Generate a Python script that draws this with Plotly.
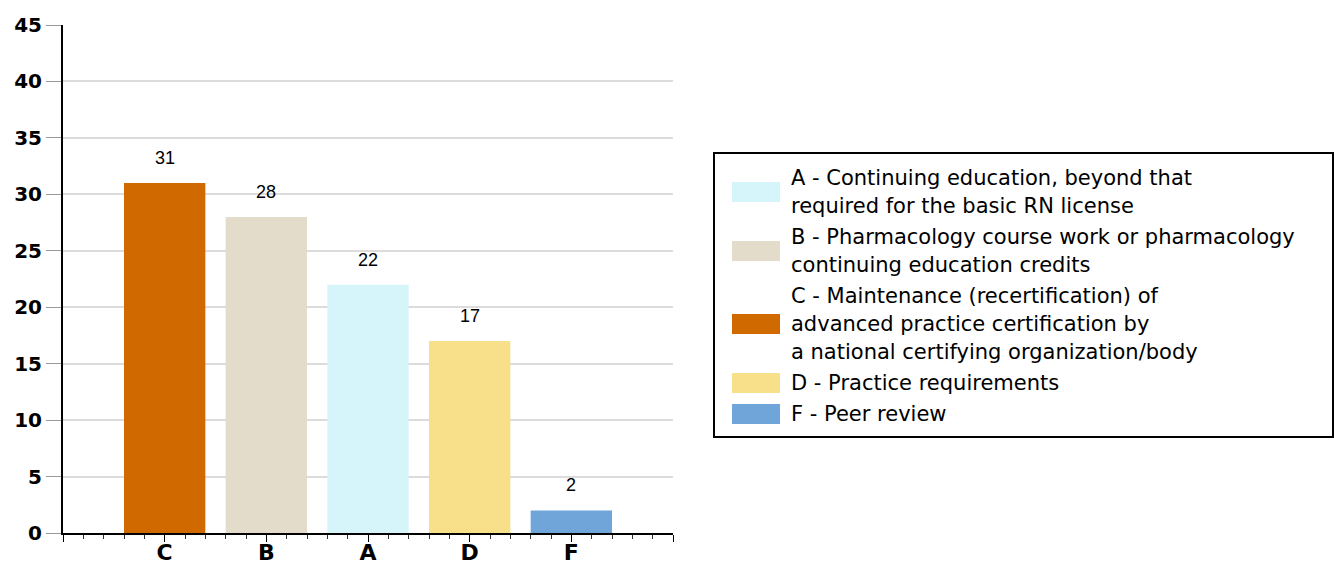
import plotly.graph_objects as go

# ---- data ----
categories = ["C", "B", "A", "D", "F"]
values = [31, 28, 22, 17, 2]
bar_colors = ["#CF6900", "#E3DCCA", "#D6F5FA", "#F8DF8A", "#70A5DA"]

legend_keys = ["A", "B", "C", "D", "F"]
legend_lines = [
    ["A - Continuing education, beyond that", "required for the basic RN license"],
    ["B - Pharmacology course work or pharmacology", "continuing education credits"],
    ["C - Maintenance (recertification) of", "advanced practice certification by",
     "a national certifying organization/body"],
    ["D - Practice requirements"],
    ["F - Peer review"],
]
y_ticks = list(range(0, 50, 5))

# ---- layout geometry (pixels) ----
W, H = 1334, 567
L, R, T, B = 63, 673, 25, 533
FONT = "Liberation Sans, Arial, sans-serif"
WIDE = "DejaVu Sans, Liberation Sans, sans-serif"


def px_x(px):
    return (px - L) / (R - L)


def px_y(py):
    return (B - py) / (B - T)


xpos = list(range(len(categories)))
color_of = dict(zip(categories, bar_colors))

fig = go.Figure()
fig.add_trace(go.Bar(
    x=xpos, y=values, width=0.8,
    marker=dict(color=bar_colors, line=dict(width=0)),
    showlegend=False, hoverinfo="skip",
))

annotations = []
for xi, v in zip(xpos, values):
    annotations.append(dict(
        x=xi, y=v, xref="x", yref="y", text=str(v), showarrow=False,
        yanchor="middle", yshift=25, font=dict(family=FONT, size=18, color="#000"),
    ))

# ---- custom legend ----
shapes = [dict(type="rect", xref="paper", yref="paper",
               x0=px_x(714), x1=px_x(1333), y0=px_y(437), y1=px_y(153),
               line=dict(color="#000", width=2), fillcolor="rgba(0,0,0,0)")]
y = 178
for key, lines in zip(legend_keys, legend_lines):
    ys = [y + 28 * i for i in range(len(lines))]
    yc = sum(ys) / len(ys)
    shapes.append(dict(type="rect", xref="paper", yref="paper",
                       x0=px_x(732), x1=px_x(780), y0=px_y(yc + 10), y1=px_y(yc - 10),
                       line=dict(width=0), fillcolor=color_of[key]))
    for ln, yy in zip(lines, ys):
        annotations.append(dict(
            x=px_x(789), y=px_y(yy), xref="paper", yref="paper", text=ln,
            showarrow=False, xanchor="left", yanchor="middle",
            font=dict(family=WIDE, size=21, color="#000"),
        ))
    y = ys[-1] + 31

fig.update_layout(
    width=W, height=H,
    margin=dict(l=L, r=W - R, t=T, b=H - B, pad=0, autoexpand=False),
    paper_bgcolor="white", plot_bgcolor="white",
    showlegend=False,
    annotations=annotations, shapes=shapes,
    xaxis=dict(
        automargin=False,
        range=[-1, len(categories)],
        tickmode="array",
        tickvals=list(range(-1, len(categories) + 1)),
        ticktext=[""] + categories + [""],
        ticks="outside", ticklen=7, tickwidth=1, tickcolor="#000",
        ticklabelstandoff=-8,
        showgrid=False, zeroline=False,
        showline=True, linecolor="#000", linewidth=2,
        tickfont=dict(family=WIDE, size=22, color="#000", weight="bold"),
        minor=dict(tickmode="linear", tick0=0, dtick=0.2, ticks="outside",
                   ticklen=4, tickwidth=1, tickcolor="#333", showgrid=False),
        fixedrange=True,
    ),
    yaxis=dict(
        automargin=False,
        range=[0, 45],
        tickmode="array", tickvals=y_ticks, ticktext=[str(t) for t in y_ticks],
        ticks="outside", ticklen=15, tickwidth=1, tickcolor="#999",
        showgrid=True, gridcolor="#DCDCDC", gridwidth=2,
        zeroline=False,
        showline=True, linecolor="#000", linewidth=2,
        tickfont=dict(family=WIDE, size=20, color="#000", weight="bold"),
        fixedrange=True,
    ),
)

fig.write_html(
    "out.html",
    config={"displayModeBar": False},
    post_script="document.body.style.margin='0';document.body.style.overflow='hidden';",
)
